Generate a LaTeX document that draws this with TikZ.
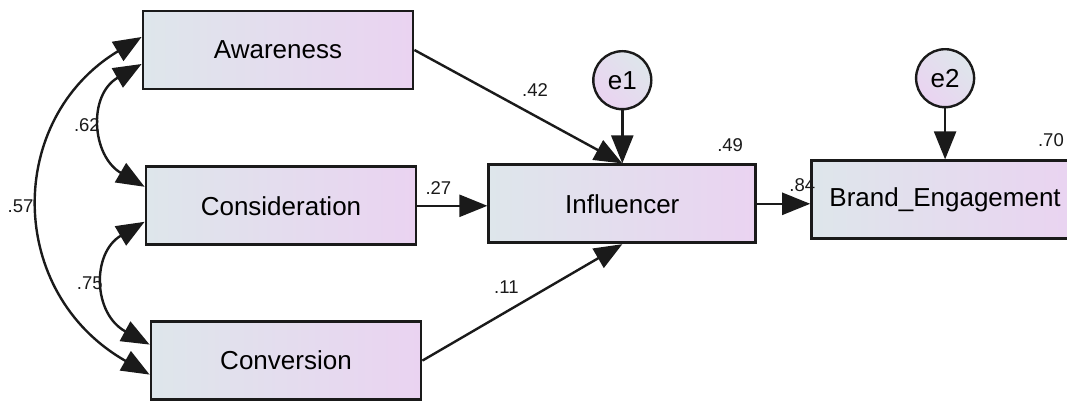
\documentclass[tikz,border=0pt]{standalone}
\usepackage{fontspec}
\setmainfont{Liberation Sans}
\usepackage{xcolor}
\definecolor{pale-blue}{HTML}{DEE6EB}
\definecolor{pale-lilac}{HTML}{EAD3F1}
\definecolor{ink}{HTML}{1A1A1A}
\usetikzlibrary{positioning}
\usetikzlibrary{arrows.meta}
\tikzset{var/.style = {draw=ink, line width=2.8pt, left color=pale-blue, right color=pale-lilac, minimum width=270pt, minimum height=78pt, align=center, text centered, font=\fontsize{26}{30}\selectfont}}
\tikzset{err/.style = {draw=ink, circle, line width=2.4pt, shading=axis, left color=pale-blue, right color=pale-lilac, shading angle=-45, minimum size=58pt, inner sep=0pt, font=\fontsize{26}{30}\selectfont}}
\tikzset{est/.style = {font=\fontsize{18.5}{22}\selectfont, text=ink, inner sep=2pt}}
\tikzset{arr/.style = {line width=2.4pt, draw=ink, -{Triangle[length=28pt, width=22pt]}}}
\tikzset{dbl/.style = {line width=2.4pt, draw=ink, {Triangle[length=28pt, width=22pt]}-{Triangle[length=28pt, width=22pt]}}}

\begin{document}
\begin{tikzpicture}[x=1pt, y=1pt]
\useasboundingbox (0,0) rectangle (1067,-403);

\node[var] (aw) at (278,-50) {Awareness};
\node[var, below=75pt of aw, xshift=3pt] (cons) {Consideration};
\node[var, below=74pt of cons, xshift=5pt] (conv) {Conversion};
\node[var, right=70pt of cons, minimum width=267pt, yshift=2pt] (inf) {Influencer};
\node[var, right=53pt of inf, minimum width=267pt, yshift=4pt] (be) {Brand\_Engagement};
\node[err, above=53pt of inf] (e1) {e1};
\node[err, above=51pt of be] (e2) {e2};
\node[est, above left=10pt and 12pt of inf.north east] (r1) {.49};
\node[est, above left=11pt and 14pt of be.north east] (r2) {.70};

\draw[arr]  (aw.east) -- (inf.north) node[pos=0.58, above=16pt, est]{.42};
\draw[arr]  (cons.east) -- (inf.west |- cons.east) node[pos=0.3, above=8pt, est]{.27};
\draw[arr]  (conv.east) -- (inf.south) node[pos=0.42, above=15pt, est]{.11};
\draw[arr]  (e1) -- (inf.north);
\draw[arr]  (inf.east) -- (be.west |- inf.east) node[pos=0.85, above=9pt, est]{.84};
\draw[arr]  (e2) -- (be.north);

% covariances
\draw[dbl]  ([yshift=-14pt]aw.west) .. controls +(-54pt,-31pt) and +(-53pt,31pt) .. ([yshift=19pt]cons.west) node[pos=0.5, left, est]{.62};
\draw[dbl]  ([yshift=-16pt]cons.west) .. controls +(-53pt,-31pt) and +(-57pt,31pt) .. ([yshift=16pt]conv.west) node[pos=0.5, left, est]{.75};
\draw[dbl]  ([yshift=13pt]aw.west) .. controls +(-136pt,-82pt) and +(-144pt,82pt) .. ([yshift=-14pt]conv.west) node[pos=0.5, left=4pt, est]{.57};

\end{tikzpicture}
\end{document}
